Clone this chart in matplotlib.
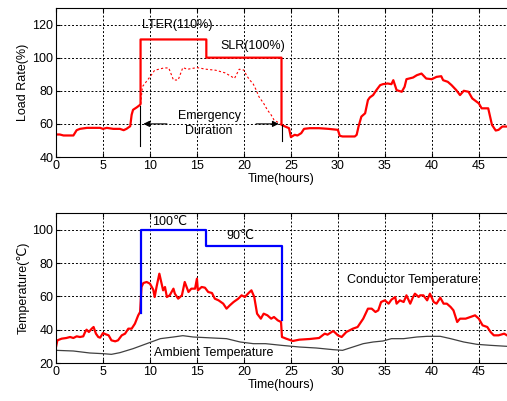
import matplotlib
matplotlib.use("Agg")
import matplotlib.pyplot as plt
import numpy as np

plt.rcParams['font.family'] = ['Liberation Sans', 'DejaVu Sans']
plt.rcParams['font.size'] = 9

# ---------------- Load rate data ----------------
pre_t = [0, 0.4, 0.8, 1.85, 2.2, 2.55, 3.3, 4.0, 4.7, 5.0, 5.4, 6.1, 6.8, 7.2, 7.5, 7.9, 8.05, 8.2, 8.6, 8.9, 9.0]
pre_v = [53.6, 53.6, 53.0, 53.0, 56.2, 57.0, 57.6, 57.6, 57.6, 57.0, 57.6, 57.0, 57.0, 56.2, 57.0, 58.6, 65.5, 68.5, 70.0, 71.3, 72.0]

lter_level = 111
slr_level = 100
t_start, t_switch, t_end = 9, 16, 24

post_t = [24.0, 24.8, 25.0, 25.4, 25.7, 26.1, 26.4, 27.0, 28.0, 29.0, 30.0, 30.2, 30.5, 31.0, 31.8, 32.0, 32.2, 32.5, 32.9, 33.2, 33.4, 33.75, 34.1, 34.5, 34.8, 35.3, 35.7, 35.9, 36.25, 36.8, 37.1, 37.3, 38.0, 38.4, 38.9, 39.4, 40.0, 40.5, 41.0, 41.2, 41.7, 42.1, 42.6, 43.0, 43.4, 43.9, 44.3, 45.0, 45.3, 46.0, 46.4, 46.8, 47.1, 47.5, 48.0]
post_v = [59.4, 57.4, 52.0, 53.4, 53.0, 54.4, 57.0, 57.4, 57.4, 57.0, 56.4, 52.8, 52.4, 52.4, 52.4, 53.4, 58.4, 64.4, 66.4, 74.4, 76.0, 77.4, 80.4, 83.4, 84.0, 84.4, 84.0, 86.4, 80.4, 79.4, 82.4, 87.0, 88.0, 89.4, 90.4, 87.4, 87.0, 88.4, 88.8, 86.4, 85.4, 83.4, 80.4, 77.4, 80.0, 79.4, 75.4, 72.4, 69.4, 69.4, 59.4, 56.0, 56.4, 58.4, 58.4]

est_t = [9.0, 9.2, 10.0, 10.5, 11.5, 12.0, 12.5, 13.0, 13.5, 14.0, 15.0, 16.0, 17.0, 18.0, 19.0, 19.5, 20.0, 20.3, 20.7, 21.0, 21.3, 21.6, 22.1, 22.5, 22.9, 23.2, 23.6, 24.0]
est_v = [72.0, 82.5, 88.4, 92.4, 93.8, 93.8, 86.5, 86.5, 94.0, 93.0, 94.0, 93.0, 92.4, 90.8, 87.5, 93.0, 92.5, 89.0, 86.0, 84.0, 80.5, 76.4, 72.4, 68.4, 65.4, 62.4, 61.0, 59.4]

# ---------------- Temperature data ----------------
cond_t = [0, 0.15, 0.6, 1.1, 1.5, 1.85, 2.2, 2.55, 2.9, 3.1, 3.25, 3.5, 3.8, 4.0, 4.25, 4.5, 4.7, 5.0, 5.3, 5.6, 5.9, 6.3, 6.6, 7.0, 7.35, 7.7, 8.05, 8.4, 8.75, 8.95,
          9.1, 9.3, 9.65, 10.0, 10.35, 10.5, 10.7, 11.0, 11.2, 11.4, 11.6, 11.8, 12.1, 12.5, 12.65, 13.0, 13.4, 13.7, 14.1, 14.4, 14.8, 15.0, 15.1, 15.5, 15.85, 16.2, 16.6, 16.9, 17.3, 17.8, 18.15, 18.5, 18.9, 19.4, 19.75, 20.1, 20.5, 20.8, 21.1, 21.4, 21.8, 22.1, 22.5, 22.9, 23.2, 23.6, 23.95,
          24.05, 24.5, 25.2, 25.9, 27.0, 28.0, 28.6, 28.9, 29.5, 29.75, 30.0, 30.4, 30.9, 31.6, 32.1, 32.7, 33.2, 33.6, 34.0, 34.3, 34.6, 35.0, 35.4, 35.7, 36.1, 36.25, 36.6, 37.0, 37.3, 37.7, 38.0, 38.2, 38.6, 38.75, 39.1, 39.5, 39.8, 40.2, 40.5, 40.9, 41.25, 41.6, 42.0, 42.3, 42.7, 43.0, 43.6, 44.1, 44.6, 45.0, 45.4, 45.9, 46.25, 46.6, 47.1, 47.7, 48.0]
cond_v = [29.6, 33.6, 34.6, 35.0, 35.6, 35.0, 36.0, 35.6, 36.0, 38.6, 40.0, 38.6, 40.6, 41.6, 37.6, 35.6, 35.2, 38.0, 37.2, 36.6, 33.6, 33.0, 33.6, 36.6, 37.6, 40.6, 40.6, 43.6, 48.6, 50.6,
          65.6, 68.0, 68.6, 67.6, 64.0, 59.6, 65.6, 73.6, 68.6, 63.6, 65.6, 59.6, 60.6, 64.6, 61.6, 58.6, 60.6, 68.6, 62.6, 64.6, 64.6, 70.6, 63.6, 65.6, 65.2, 62.6, 62.0, 58.6, 57.6, 55.6, 52.6, 54.6, 56.6, 58.6, 60.6, 59.6, 62.0, 63.6, 59.6, 49.6, 46.6, 49.6, 48.6, 46.6, 47.6, 45.6, 44.6,
          35.6, 34.6, 33.2, 34.0, 34.4, 35.0, 37.6, 37.0, 39.2, 38.0, 36.6, 35.6, 38.6, 40.6, 41.6, 46.6, 52.6, 52.6, 50.6, 51.6, 56.6, 57.6, 55.6, 58.0, 59.6, 55.6, 57.6, 56.6, 60.6, 55.6, 59.6, 61.6, 59.6, 60.6, 60.6, 57.6, 61.6, 56.6, 55.6, 59.2, 55.6, 55.6, 53.6, 51.6, 44.6, 46.6, 46.6, 47.6, 48.6, 46.6, 42.6, 41.6, 38.6, 36.6, 36.6, 37.6, 36.6]

amb_t = [0, 1.85, 3.6, 5.0, 5.9, 6.8, 8.2, 9.65, 11.1, 12.5, 13.5, 14.6, 16.0, 18.15, 19.6, 21.0, 22.3, 24.0, 25.9, 27.7, 29.5, 30.5, 31.6, 32.7, 33.75, 34.8, 35.7, 37.0, 38.4, 39.5, 40.9, 42.0, 43.4, 44.8, 46.25, 48.0]
amb_v = [27.6, 27.2, 26.0, 25.6, 25.2, 26.2, 28.6, 31.6, 34.6, 35.6, 36.4, 35.6, 35.2, 34.6, 32.6, 31.6, 31.6, 30.6, 29.6, 29.0, 28.0, 27.6, 29.6, 31.6, 32.6, 33.2, 34.6, 34.6, 35.6, 36.0, 36.0, 34.6, 32.6, 31.2, 30.6, 30.0]

limit_hi_temp = 100
limit_lo_temp = 90
temp_start_v = 50
temp_end_v = 46

RED = '#ff0000'
BLUE = '#0000ff'

fig = plt.figure(figsize=(5.07, 4.01), dpi=100)
ax1 = fig.add_axes([56/507, 1-157/401, 451/507, 149/401])
ax2 = fig.add_axes([56/507, 1-363/401, 451/507, 150/401])

def style(ax, ylim, yticks):
    ax.set_xlim(0, 48)
    ax.set_ylim(*ylim)
    ax.set_xticks([0, 5, 10, 15, 20, 25, 30, 35, 40, 45])
    ax.set_yticks(yticks)
    ax.grid(True, color='black', linestyle=(0, (2, 2)), linewidth=0.7)
    ax.tick_params(direction='in', length=3, top=True, right=False, labelsize=9, pad=2)
    ax.spines['right'].set_visible(False)
    for s in ['top', 'left', 'bottom']:
        ax.spines[s].set_linewidth(0.8)
    ax.set_axisbelow(True)
    ax.set_xlabel('Time(hours)', labelpad=1)

# ---- Top panel ----
load_t = pre_t + [t_start, t_switch, t_switch, t_end] + post_t
load_v = pre_v + [lter_level, lter_level, slr_level, slr_level] + post_v
ax1.plot(est_t, est_v, color=RED, linestyle=(0, (2, 2)), linewidth=0.8)
ax1.plot(load_t, load_v, color=RED, linewidth=1.6)
ax1.plot([8.9, 8.9], [46.5, 71], color='black', linewidth=0.8)
ax1.plot([24.0, 24.0], [49.5, 59.4], color='black', linewidth=0.8)
ax1.annotate('', xy=(9.0, 60), xytext=(12.1, 60),
             arrowprops=dict(arrowstyle='-|>', color='black', lw=0.8, mutation_scale=9))
ax1.annotate('', xy=(24.0, 60), xytext=(21.0, 60),
             arrowprops=dict(arrowstyle='-|>', color='black', lw=0.8, mutation_scale=9))
ax1.text(16.3, 65, 'Emergency', ha='center', va='center', fontsize=9)
ax1.text(16.3, 55.6, 'Duration', ha='center', va='center', fontsize=9)
ax1.text(12.9, 120, 'LTER(110%)', ha='center', va='center', fontsize=9)
ax1.text(20.9, 106.8, 'SLR(100%)', ha='center', va='center', fontsize=9)
style(ax1, (40, 130), [40, 60, 80, 100, 120])
ax1.set_ylabel('Load Rate(%)', labelpad=2)

# ---- Bottom panel ----
ax2.plot(amb_t, amb_v, color='#404040', linewidth=0.9)
ax2.plot(cond_t, cond_v, color=RED, linewidth=1.6)
lim_t = [t_start, t_start, t_switch, t_switch, t_end, t_end]
lim_v = [temp_start_v, limit_hi_temp, limit_hi_temp, limit_lo_temp, limit_lo_temp, temp_end_v]
ax2.plot(lim_t, lim_v, color=BLUE, linewidth=1.6)
ax2.text(12.1, 104.6, '100℃', ha='center', va='center', fontsize=9)
ax2.text(19.6, 96.0, '90℃', ha='center', va='center', fontsize=9)
ax2.text(10.4, 26.0, 'Ambient Temperature', ha='left', va='center', fontsize=9)
ax2.text(38.0, 69.6, 'Conductor Temperature', ha='center', va='center', fontsize=9)
style(ax2, (20, 110), [20, 40, 60, 80, 100])
ax2.set_ylabel('Temperature(℃)', labelpad=2)

fig.savefig('out.png', dpi=100)
